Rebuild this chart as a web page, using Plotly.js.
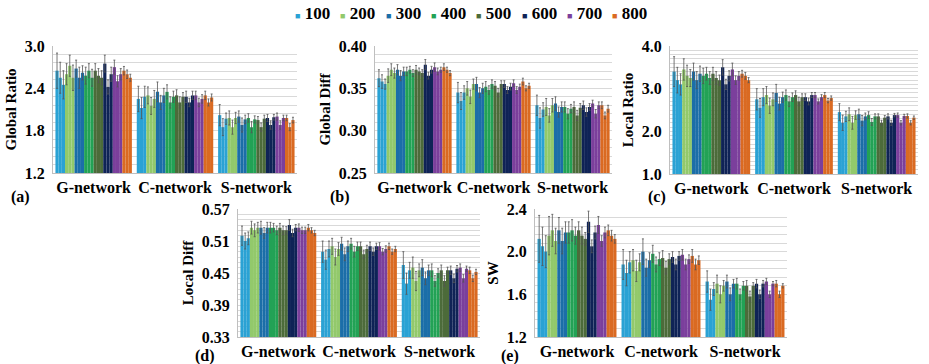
<!DOCTYPE html>
<html>
<head>
<meta charset="utf-8">
<script src="https://cdn.plot.ly/plotly-3.0.1.min.js"></script>
<style>html,body{margin:0;padding:0;background:#fff;}#chart{width:929px;height:364px;}</style>
</head>
<body>
<div id="chart"></div>
<script>
// ---------- data ----------
const groups = ['G-network', 'C-network', 'S-network'];
const seriesNames = ['100', '200', '300', '400', '500', '600', '700', '800'];
const seriesColors = ['#2AA2D4', '#92C96B', '#1B6EA8', '#22A255', '#4C6B3A', '#0F2356', '#7B3F9C', '#DA6A22'];
// each series has 3 sub-bars per network (8 series x 3 = 24 values)

// (a) Global Ratio
const globalRatio_G = [2.65,2.55,2.45, 2.60,2.72,2.55, 2.68,2.55,2.62, 2.58,2.65,2.55, 2.65,2.58,2.55, 2.75,2.42,2.60, 2.70,2.50,2.60, 2.65,2.60,2.55];
const globalRatio_Gerr = [0.25,0.22,0.20, 0.15,0.15,0.18, 0.12,0.15,0.10, 0.12,0.10,0.12, 0.10,0.10,0.10, 0.12,0.10,0.10, 0.10,0.08,0.08, 0.06,0.06,0.05];
const globalRatio_C = [2.25,2.12,2.28, 2.30,2.15,2.25, 2.35,2.20,2.30, 2.35,2.20,2.28, 2.30,2.20,2.28, 2.28,2.20,2.30, 2.30,2.20,2.25, 2.30,2.20,2.27];
const globalRatio_Cerr = [0.18,0.15,0.15, 0.12,0.12,0.12, 0.14,0.10,0.10, 0.10,0.08,0.08, 0.08,0.08,0.06, 0.08,0.06,0.06, 0.06,0.06,0.06, 0.06,0.05,0.05];
const globalRatio_S = [2.02,1.85,1.97, 1.98,1.85,1.98, 2.00,1.88,1.96, 1.98,1.85,1.96, 1.95,1.85,1.97, 1.98,1.88,1.99, 2.00,1.88,1.98, 1.98,1.85,1.95];
const globalRatio_Serr = [0.15,0.12,0.08, 0.10,0.10,0.08, 0.08,0.10,0.06, 0.06,0.08,0.05, 0.05,0.06,0.05, 0.05,0.06,0.04, 0.05,0.06,0.04, 0.04,0.05,0.04];

// (b) Global Diff
const globalDiff_G = [0.362,0.358,0.355, 0.365,0.372,0.368, 0.372,0.365,0.370, 0.370,0.372,0.368, 0.372,0.370,0.368, 0.378,0.365,0.372, 0.375,0.370,0.372, 0.375,0.372,0.368];
const globalDiff_Gerr = [0.010,0.008,0.006, 0.008,0.007,0.006, 0.006,0.006,0.005, 0.005,0.004,0.004, 0.005,0.004,0.004, 0.006,0.004,0.004, 0.005,0.004,0.003, 0.004,0.003,0.003];
const globalDiff_C = [0.345,0.335,0.345, 0.350,0.340,0.355, 0.355,0.345,0.350, 0.352,0.348,0.355, 0.353,0.345,0.355, 0.355,0.348,0.352, 0.356,0.348,0.352, 0.358,0.350,0.353];
const globalDiff_Cerr = [0.012,0.010,0.008, 0.008,0.008,0.006, 0.008,0.006,0.006, 0.006,0.005,0.005, 0.005,0.005,0.004, 0.004,0.004,0.004, 0.004,0.004,0.003, 0.004,0.003,0.003];
const globalDiff_S = [0.330,0.315,0.325, 0.328,0.318,0.330, 0.332,0.322,0.328, 0.328,0.320,0.326, 0.328,0.318,0.327, 0.330,0.322,0.328, 0.332,0.320,0.330, 0.330,0.318,0.326];
const globalDiff_Serr = [0.012,0.012,0.008, 0.010,0.008,0.008, 0.008,0.006,0.006, 0.006,0.006,0.005, 0.006,0.006,0.005, 0.005,0.005,0.004, 0.004,0.005,0.004, 0.004,0.004,0.004];

// (c) Local Ratio
const localRatio_G = [3.40,3.20,3.10, 3.45,3.30,3.25, 3.40,3.20,3.35, 3.30,3.35,3.25, 3.35,3.25,3.20, 3.50,3.10,3.30, 3.45,3.20,3.30, 3.35,3.30,3.20];
const localRatio_Gerr = [0.35,0.30,0.25, 0.25,0.25,0.20, 0.20,0.20,0.18, 0.18,0.15,0.15, 0.15,0.15,0.12, 0.18,0.12,0.12, 0.15,0.10,0.10, 0.08,0.08,0.06];
const localRatio_C = [2.75,2.55,2.80, 2.85,2.60,2.75, 2.90,2.65,2.80, 2.85,2.70,2.80, 2.85,2.70,2.80, 2.80,2.70,2.85, 2.85,2.70,2.80, 2.85,2.72,2.78];
const localRatio_Cerr = [0.25,0.22,0.20, 0.20,0.18,0.15, 0.20,0.15,0.12, 0.12,0.12,0.10, 0.10,0.10,0.08, 0.08,0.08,0.06, 0.06,0.06,0.06, 0.06,0.05,0.05];
const localRatio_S = [2.45,2.20,2.35, 2.40,2.20,2.38, 2.40,2.25,2.35, 2.38,2.22,2.35, 2.35,2.20,2.32, 2.35,2.20,2.38, 2.38,2.20,2.36, 2.36,2.20,2.32];
const localRatio_Serr = [0.20,0.18,0.12, 0.15,0.15,0.10, 0.12,0.12,0.08, 0.08,0.08,0.06, 0.06,0.06,0.05, 0.06,0.06,0.04, 0.05,0.05,0.04, 0.05,0.05,0.04];

// (d) Local Diff
const localDiff_G = [0.520,0.510,0.515, 0.535,0.530,0.535, 0.535,0.525,0.535, 0.535,0.535,0.530, 0.535,0.530,0.530, 0.540,0.525,0.535, 0.535,0.530,0.530, 0.535,0.530,0.525];
const localDiff_Gerr = [0.018,0.015,0.012, 0.012,0.012,0.010, 0.012,0.010,0.010, 0.010,0.008,0.008, 0.008,0.008,0.007, 0.010,0.007,0.006, 0.007,0.006,0.006, 0.006,0.005,0.005];
const localDiff_C = [0.490,0.475,0.495, 0.500,0.480,0.495, 0.505,0.485,0.500, 0.505,0.490,0.500, 0.500,0.485,0.495, 0.500,0.490,0.500, 0.500,0.490,0.495, 0.500,0.490,0.495];
const localDiff_Cerr = [0.020,0.018,0.015, 0.015,0.015,0.012, 0.012,0.012,0.010, 0.010,0.010,0.008, 0.008,0.008,0.007, 0.008,0.007,0.006, 0.007,0.006,0.006, 0.006,0.005,0.005];
const localDiff_S = [0.465,0.430,0.455, 0.460,0.435,0.455, 0.460,0.440,0.455, 0.455,0.435,0.450, 0.455,0.435,0.455, 0.455,0.440,0.458, 0.460,0.440,0.458, 0.455,0.440,0.452];
const localDiff_Serr = [0.025,0.020,0.015, 0.020,0.018,0.012, 0.015,0.012,0.010, 0.012,0.010,0.008, 0.010,0.010,0.006, 0.008,0.008,0.006, 0.007,0.007,0.005, 0.006,0.006,0.005];

// (e) SW
const sw_G = [2.12,2.05,2.00, 2.15,2.20,2.10, 2.20,2.10,2.18, 2.18,2.20,2.15, 2.20,2.15,2.12, 2.28,2.05,2.18, 2.25,2.10,2.18, 2.20,2.15,2.12];
const sw_Gerr = [0.22,0.18,0.15, 0.18,0.15,0.12, 0.12,0.12,0.10, 0.10,0.10,0.08, 0.08,0.08,0.06, 0.10,0.06,0.06, 0.08,0.05,0.05, 0.05,0.05,0.04];
const sw_C = [1.88,1.80,1.90, 1.92,1.82,1.90, 2.00,1.85,1.92, 1.98,1.88,1.93, 1.94,1.85,1.93, 1.95,1.88,1.96, 1.97,1.88,1.93, 1.96,1.88,1.92];
const sw_Cerr = [0.14,0.12,0.10, 0.10,0.10,0.08, 0.12,0.08,0.07, 0.08,0.07,0.06, 0.07,0.06,0.05, 0.05,0.05,0.04, 0.05,0.05,0.04, 0.06,0.05,0.04];
const sw_S = [1.72,1.55,1.65, 1.70,1.60,1.68, 1.72,1.60,1.70, 1.70,1.60,1.68, 1.68,1.58,1.68, 1.70,1.60,1.70, 1.72,1.60,1.70, 1.70,1.60,1.68];
const sw_Serr = [0.10,0.10,0.06, 0.08,0.08,0.05, 0.06,0.06,0.04, 0.05,0.05,0.04, 0.05,0.05,0.03, 0.04,0.04,0.03, 0.03,0.03,0.02, 0.03,0.03,0.02];

const panelTitles = ['Global Ratio', 'Global Diff', 'Local Ratio', 'Local Diff', 'SW'];
const panelLetters = ['(a)', '(b)', '(c)', '(d)', '(e)'];
const panelData = [
  [globalRatio_G, globalRatio_C, globalRatio_S, globalRatio_Gerr, globalRatio_Cerr, globalRatio_Serr],
  [globalDiff_G, globalDiff_C, globalDiff_S, globalDiff_Gerr, globalDiff_Cerr, globalDiff_Serr],
  [localRatio_G, localRatio_C, localRatio_S, localRatio_Gerr, localRatio_Cerr, localRatio_Serr],
  [localDiff_G, localDiff_C, localDiff_S, localDiff_Gerr, localDiff_Cerr, localDiff_Serr],
  [sw_G, sw_C, sw_S, sw_Gerr, sw_Cerr, sw_Serr]
];

// ---------- styling / layout ----------
const W = 929, H = 364;
const FONT = 'Liberation Serif';
const axisSpec = [
  {px: [53, 297], py: [46, 173], range: [1.2, 3.0], dtick: 0.6, minor: 0.12, fmt: '.1f', letter: [20, 197]},
  {px: [375, 612], py: [46, 173], range: [0.25, 0.40], dtick: 0.05, minor: 0.01, fmt: '.2f', letter: [340, 197]},
  {px: [670, 918], py: [46, 174], range: [1.0, 4.0], dtick: 1.0, minor: 0.1, fmt: '.1f', letter: [657, 197]},
  {px: [238, 480], py: [209, 337], range: [0.33, 0.57], dtick: 0.06, minor: 0.01, fmt: '.2f', letter: [205, 356]},
  {px: [535, 787], py: [209, 337], range: [1.2, 2.4], dtick: 0.4, minor: 0.08, fmt: '.1f', letter: [510, 356]}
];

const traces = [];
const layout = {
  width: W, height: H,
  margin: {l: 0, r: 0, t: 0, b: 0},
  paper_bgcolor: '#ffffff', plot_bgcolor: '#ffffff',
  barmode: 'group', bargap: 0.06, bargroupgap: 0,
  showlegend: false,
  font: {family: FONT, color: '#000', size: 15, weight: 'bold'},
  annotations: []
};

panelData.forEach((pd, p) => {
  const sfx = p === 0 ? '' : String(p + 1);
  const spec = axisSpec[p];
  for (let c = 0; c < seriesNames.length; c++) {
    for (let s = 0; s < 3; s++) {
      const k = c * 3 + s;
      traces.push({
        type: 'bar',
        name: seriesNames[c],
        legendgroup: seriesNames[c],
        showlegend: false,
        x: groups,
        y: [pd[0][k], pd[1][k], pd[2][k]],
        error_y: {type: 'data', array: [pd[3][k], pd[4][k], pd[5][k]], color: '#555', thickness: 0.8, width: 1},
        marker: {color: seriesColors[c], line: {width: 0}},
        xaxis: 'x' + sfx, yaxis: 'y' + sfx,
        hoverinfo: 'skip'
      });
    }
  }
  layout['xaxis' + sfx] = {
    domain: [spec.px[0] / W, spec.px[1] / W],
    anchor: 'y' + sfx,
    type: 'category',
    showline: true, linecolor: '#bfbfbf', linewidth: 1,
    ticks: '', showgrid: false, zeroline: false,
    tickangle: 0,
    ticklabelstandoff: 0,
    tickfont: {family: FONT, size: 16, color: '#000', weight: 'bold'},
    fixedrange: true
  };
  layout['yaxis' + sfx] = {
    domain: [1 - spec.py[1] / H, 1 - spec.py[0] / H],
    anchor: 'x' + sfx,
    range: spec.range,
    tick0: spec.range[0], dtick: spec.dtick,
    tickformat: spec.fmt,
    showline: true, linecolor: '#bfbfbf', linewidth: 1,
    showgrid: true, gridcolor: '#d9d9d9', gridwidth: 1,
    minor: {tick0: spec.range[0], dtick: spec.minor, showgrid: true, gridcolor: '#d9d9d9', gridwidth: 1, ticks: ''},
    zeroline: false, ticks: '',
    ticklabelstandoff: 4,
    tickfont: {family: FONT, size: 16, color: '#000', weight: 'bold'},
    title: {text: panelTitles[p], font: {family: FONT, size: 15, color: '#000', weight: 'bold'}, standoff: 4},
    fixedrange: true
  };
  layout.annotations.push({
    xref: 'paper', yref: 'paper', x: spec.letter[0] / W, y: 1 - spec.letter[1] / H,
    xanchor: 'center', yanchor: 'middle', showarrow: false,
    text: panelLetters[p], font: {family: FONT, size: 16, color: '#000', weight: 'bold'}
  });
});

// legend row (marker + label) built from the series arrays
seriesNames.forEach((nm, i) => {
  layout.annotations.push({
    xref: 'paper', yref: 'paper', x: (293 + 45.3 * i) / W, y: 1 - 14 / H,
    xanchor: 'left', yanchor: 'middle', showarrow: false,
    text: '<span style="color:' + seriesColors[i] + ';font-size:9px">■</span> ' + nm,
    font: {family: FONT, size: 17, color: '#000', weight: 'bold'}
  });
});

Plotly.newPlot('chart', traces, layout, {displayModeBar: false, staticPlot: true});
</script>
</body>
</html>
